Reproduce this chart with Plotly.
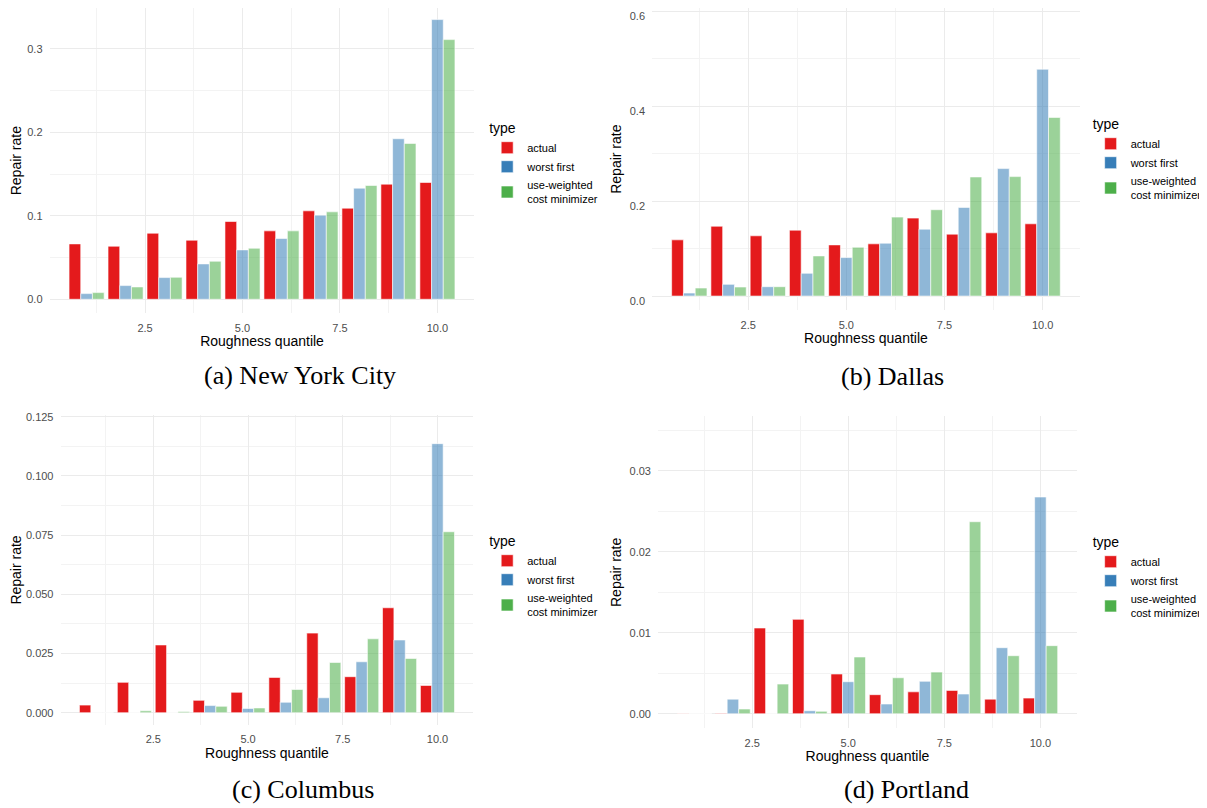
import plotly.graph_objects as go

# ---------------- data ----------------
quantiles = [1, 2, 3, 4, 5, 6, 7, 8, 9, 10]
series_names = ["actual", "worst first", "use-weighted<br>cost minimizer"]

nyc_actual = [0.0664, 0.0636, 0.0792, 0.0708, 0.0932, 0.0820, 0.1060, 0.1092, 0.1380, 0.1400]
nyc_worst = [0.0068, 0.0164, 0.0260, 0.0424, 0.0592, 0.0728, 0.1008, 0.1332, 0.1924, 0.3352]
nyc_useweighted = [0.0080, 0.0148, 0.0264, 0.0456, 0.0612, 0.0820, 0.1048, 0.1364, 0.1868, 0.3112]

dal_actual = [0.1183, 0.1470, 0.1268, 0.1387, 0.1077, 0.1099, 0.1641, 0.1303, 0.1331, 0.1521]
dal_worst = [0.0063, 0.0246, 0.0197, 0.0479, 0.0810, 0.1113, 0.1408, 0.1866, 0.2683, 0.4775]
dal_useweighted = [0.0169, 0.0190, 0.0197, 0.0845, 0.1028, 0.1662, 0.1817, 0.2507, 0.2514, 0.3760]

col_actual = [0.0032, 0.0128, 0.0286, 0.0052, 0.0086, 0.0149, 0.0336, 0.0152, 0.0443, 0.0115]
col_worst = [0.0, 0.0, 0.0, 0.0030, 0.0018, 0.0044, 0.0063, 0.0215, 0.0307, 0.1136]
col_useweighted = [0.0, 0.0008, 0.0005, 0.0027, 0.0020, 0.0098, 0.0212, 0.0312, 0.0229, 0.0764]

por_actual = [0.00002, 0.00005, 0.01058, 0.01165, 0.0049, 0.00235, 0.0027, 0.00288, 0.0018, 0.00193]
por_worst = [0.0, 0.0018, 0.0, 0.00037, 0.00395, 0.0012, 0.0040, 0.00243, 0.00815, 0.02675]
por_useweighted = [0.0, 0.00058, 0.00366, 0.0003, 0.0070, 0.00444, 0.00514, 0.0237, 0.00716, 0.0084]

captions = ["(a) New York City", "(b) Dallas", "(c) Columbus", "(d) Portland"]
x_tickvals = [2.5, 5.0, 7.5, 10.0]
x_title = "Roughness quantile"
y_title = "Repair rate"

panels = [
    dict(series=[nyc_actual, nyc_worst, nyc_useweighted], yrange=[-0.0168, 0.357], ydtick=0.1, yfmt=".1f"),
    dict(series=[dal_actual, dal_worst, dal_useweighted], yrange=[-0.03, 0.623], ydtick=0.2, yfmt=".1f"),
    dict(series=[col_actual, col_worst, col_useweighted], yrange=[-0.0052, 0.1257], ydtick=0.025, yfmt=".3f"),
    dict(series=[por_actual, por_worst, por_useweighted], yrange=[-0.0018, 0.0367], ydtick=0.01, yfmt=".2f"),
]

# ---------------- styling / layout ----------------
OFF = 8                      # default page body margin
W, H = 1207 - OFF, 808 - OFF
solid_colors = ["#E41A1C", "#377EB8", "#4DAF4A"]
bar_colors = ["rgba(228,26,28,1)", "rgba(55,126,184,0.56)", "rgba(77,175,74,0.56)"]


def px_x(p):
    return (p - OFF) / W


def px_y(p):
    return 1 - (p - OFF) / H


# plot areas in page pixels: (left, right, top, bottom)
boxes = [(50, 477, 1.4, 313.3), (656, 1086, 0.1, 310.3), (61, 476, 415, 725), (662, 1083, 416.4, 728.3)]
label_shift = [0, 5, 0, 0]   # keep the top tick label of panel (b) inside the page
legend_pos = [(490, 115), (1097, 111), (490, 528), (1097, 529)]
caption_pos = [(302, 375), (898, 376), (305, 789), (912, 789)]

fig = go.Figure()
font_sans = "Liberation Sans, Arial, sans-serif"

for i, p in enumerate(panels):
    n = "" if i == 0 else str(i + 1)
    xa, ya = "x" + n, "y" + n
    lg = "legend" + n
    for k, (vals, name) in enumerate(zip(p["series"], series_names)):
        fig.add_trace(go.Bar(
            x=quantiles, y=vals, name=name, xaxis=xa, yaxis=ya,
            offsetgroup=str(k), showlegend=False, legend=lg,
            marker=dict(color=bar_colors[k], line=dict(color="white", width=0.6)),
            hoverinfo="x+y+name",
        ))
        # legend key (solid colour, like the reference legend)
        fig.add_trace(go.Bar(
            x=[None], y=[None], name=name, xaxis=xa, yaxis=ya,
            offsetgroup=str(k), showlegend=True, legend=lg,
            marker=dict(color=solid_colors[k], line=dict(color="white", width=0.6)),
        ))
    l, r, t, b = boxes[i]
    y0, y1 = p["yrange"]
    ppu = (b - t) / (y1 - y0)
    if t < OFF:  # clip the top of the panel to the visible page area
        y1 = y1 - (OFF - t) / ppu
        t = OFF
    axis_common = dict(
        showline=False, zeroline=False, automargin=False,
        gridcolor="#EBEBEB", gridwidth=1.2,
        tickfont=dict(family=font_sans, size=11, color="#4D4D4D"),
        ticks="outside", ticklen=4, tickcolor="rgba(0,0,0,0)",
        ticklabeloverflow="allow",
    )
    fig.layout["xaxis" + n] = dict(
        axis_common, domain=[px_x(l), px_x(r)], anchor=ya, range=[0.055, 10.945],
        tickvals=x_tickvals, tickformat=".1f",
        minor=dict(tickvals=[1.25, 3.75, 6.25, 8.75], showgrid=True, gridcolor="#F3F3F3", gridwidth=0.7),
        title=dict(text=x_title, font=dict(family=font_sans, size=14, color="black"), standoff=2),
    )
    fig.layout["yaxis" + n] = dict(
        axis_common, domain=[px_y(b), px_y(t)], anchor=xa, range=[y0, y1],
        dtick=p["ydtick"], tick0=0, tickformat=p["yfmt"], ticklabelshift=label_shift[i],
        minor=dict(dtick=p["ydtick"] / 2, tick0=0, showgrid=True, gridcolor="#F3F3F3", gridwidth=0.7),
        title=dict(text=y_title, font=dict(family=font_sans, size=14, color="black"), standoff=4),
    )
    lx, ly = legend_pos[i]
    fig.layout[lg] = dict(
        x=px_x(lx), y=px_y(ly), xanchor="left", yanchor="top",
        title=dict(text="type", font=dict(family=font_sans, size=14, color="black")),
        font=dict(family=font_sans, size=11, color="black"),
        bgcolor="rgba(0,0,0,0)", tracegroupgap=0, itemclick=False, itemdoubleclick=False,
    )
    cx, cy = caption_pos[i]
    fig.add_annotation(
        x=px_x(cx), y=px_y(cy), xref="paper", yref="paper", showarrow=False,
        text=captions[i], xanchor="center", yanchor="middle",
        font=dict(family="Liberation Serif, DejaVu Serif, serif", size=26, color="black"),
    )

fig.update_layout(
    width=W, height=H, margin=dict(l=0, r=0, t=0, b=0),
    paper_bgcolor="white", plot_bgcolor="white",
    barmode="group", bargap=0.1, bargroupgap=0.0,
)

fig.write_html("out.html")
